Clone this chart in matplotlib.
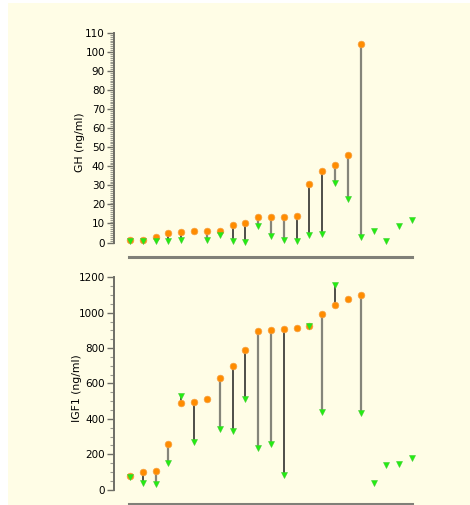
import numpy as np
import matplotlib
matplotlib.use("Agg")
from matplotlib import pyplot as plt
from matplotlib.patches import Rectangle
from matplotlib.ticker import FixedLocator

nan = np.nan

# 23 subjects, before (orange) / after (green)
gh_before = [1.5, 1.3, 2.7, 5.2, 5.5, 5.9, 5.9, 5.9, 9.4, 10.0, 13.2, 13.5, 13.5, 14.1,
             30.5, 37.7, 40.9, 45.8, 104.0, nan, nan, nan, nan]
gh_after = [0.8, 0.6, 1.0, 1.0, 1.3, nan, 1.5, 3.9, 1.0, 0.5, 8.7, 3.4, 1.3, 0.8,
            3.9, 4.6, 31.0, 23.0, 2.9, 6.2, 0.8, 8.7, 11.8]
gh_group = ['B', 'B', 'B', 'A', 'A', 'B', 'B', 'B', 'A', 'A', 'B', 'B', 'B', 'A',
            'A', 'A', 'B', 'B', 'B', 'B', 'B', 'B', 'B']

igf_before = [75, 98, 104, 258, 488, 496, 513, 633, 699, 788, 899, 901, 908, 912,
              925, 990, 1042, 1078, 1099, nan, nan, nan, nan]
igf_after = [70, 36, 32, 153, 528, 268, nan, 345, 332, 513, 237, 260, 83, nan,
             925, 439, 1159, nan, 434, 38, 138, 147, 179]
igf_group = ['B', 'A', 'B', 'B', 'A', 'A', 'B', 'B', 'A', 'A', 'B', 'B', 'A', 'B',
             'B', 'B', 'A', 'B', 'B', 'B', 'B', 'B', 'B']

W, H = 470, 505
bg = '#fffde6'
fig = plt.figure(figsize=(W / 100, H / 100), dpi=100, facecolor='white')
fig.patches.append(Rectangle((8 / W, 0), 1, 1 - 3 / H, transform=fig.transFigure,
                             facecolor=bg, edgecolor='none', zorder=-10))


def panel(rect, before, after, group, ylim, ymax, major, minor, label, lpad):
    ax = fig.add_axes(rect)
    ax.set_facecolor('none')
    x = np.arange(len(before))
    for i in x:
        b, a = before[i], after[i]
        if np.isnan(b) or np.isnan(a):
            continue
        if group[i] == 'A':
            ax.plot([i, i], [b, a], color='#1e1e1e', lw=1.1, zorder=2)
        else:
            ax.plot([i, i], [b, a], color='#85857a', lw=1.6, zorder=2)
    ax.plot(x, before, 'o', color='#ff8c00', mec='#f5a040', mew=0.5, ms=4.8, zorder=3)
    ax.plot(x, after, 'v', color='#22ee11', mec='#44cc33', mew=0.4, ms=4.5, zorder=4)

    ax.set_xlim(-1.248, 22.624)
    ax.set_ylim(*ylim)
    ax.yaxis.set_major_locator(FixedLocator(np.arange(0, ymax + 1, major)))
    ax.yaxis.set_minor_locator(FixedLocator(np.arange(0, ymax + 1, minor)))
    for s in ['top', 'right']:
        ax.spines[s].set_visible(False)
    ax.spines['left'].set_bounds(0, ymax)
    ax.spines['left'].set_color('#6e6e66')
    ax.spines['left'].set_linewidth(1.4)
    ax.spines['bottom'].set_bounds(-0.08, 22)
    ax.spines['bottom'].set_color('#808078')
    ax.spines['bottom'].set_linewidth(2.2)
    ax.set_xticks([])
    ax.tick_params(axis='y', which='major', length=5, width=1, color='#6e6e66',
                   labelsize=7.5, pad=1.5)
    ax.tick_params(axis='y', which='minor', length=3, width=0.8, color='#9a9a90')
    ax.set_ylabel(label, fontsize=7.8, labelpad=lpad)
    return ax


panel([114 / W, 1 - 257 / H, 306 / W, 229 / H], gh_before, gh_after, gh_group,
      (-7.6, 112.6), 110, 10, 1, 'GH (ng/ml)', 0)
panel([114 / W, 1 - 504 / H, 306 / W, 232 / H], igf_before, igf_after, igf_group,
      (-81, 1230), 1200, 200, 50, 'IGF1 (ng/ml)', -2)

fig.savefig('out.png', dpi=100, facecolor='white')
